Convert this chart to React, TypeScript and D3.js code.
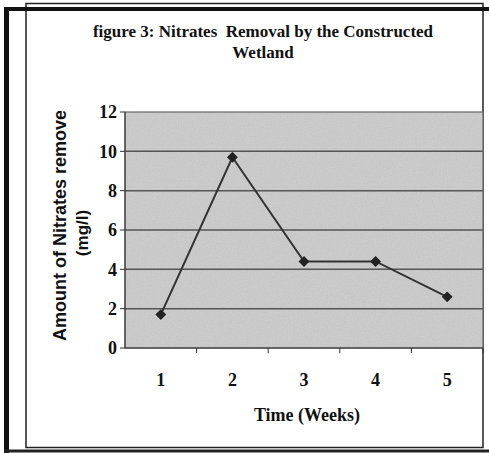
import React from 'react';
import * as d3 from 'd3';

const weeks = ['1', '2', '3', '4', '5'];
const nitratesRemoved = [1.7, 9.7, 4.4, 4.4, 2.6];
const yTicks = [0, 2, 4, 6, 8, 10, 12];

const titleLines = ['figure 3: Nitrates  Removal by the Constructed', 'Wetland'];
const xTitle = 'Time (Weeks)';
const yTitleLines = ['Amount of Nitrates removed', '(mg/l)'];

export default function App() {
  const width = 489, height = 453;
  const left = 125, right = 483, top = 112, bottom = 348;

  const x = d3.scaleBand().domain(weeks).range([left, right]);
  const y = d3.scaleLinear().domain([0, 12]).range([bottom, top]);

  const pts = weeks.map((w, i) => [x(w)! + x.bandwidth() / 2, y(nitratesRemoved[i])] as [number, number]);
  const line = d3.line()(pts) as string;
  const diamond = d3.symbol().type(d3.symbolDiamond2).size(75)() as string;

  const serif = '"Liberation Serif", "Times New Roman", serif';
  const sans = '"Liberation Sans", Arial, sans-serif';

  return (
    <svg width={width} height={height} style={{ position: 'absolute', left: 0, top: 0, background: '#fff' }}>
      <defs>
        <filter id="grain" x="0" y="0" width="100%" height="100%">
          <feTurbulence type="fractalNoise" baseFrequency="0.8" numOctaves={2} seed={3} />
          <feColorMatrix type="saturate" values="0" />
        </filter>
        <clipPath id="ytitleclip">
          <rect x={0} y={111} width={120} height={300} />
        </clipPath>
      </defs>

      {/* frame */}
      <rect x={26} y={3.5} width={457} height={444} fill="none" stroke="#222" strokeWidth={1.5} />
      <line x1={4} y1={9} x2={489} y2={9} stroke="#111" strokeWidth={4} />
      <line x1={6.5} y1={7} x2={6.5} y2={453} stroke="#111" strokeWidth={5} />
      <line x1={4} y1={451} x2={489} y2={451} stroke="#222" strokeWidth={3} />

      {/* title */}
      {titleLines.map((t, i) => (
        <text key={t} x={263} y={37 + i * 21} textAnchor="middle" fontFamily={serif} fontWeight="bold"
          fontSize={17} fill="#111" style={{ whiteSpace: 'pre' }}>{t}</text>
      ))}

      {/* plot area */}
      <rect x={left} y={top} width={right - left} height={bottom - top} fill="#cbcbcb" />
      <rect x={left} y={top} width={right - left} height={bottom - top} filter="url(#grain)" opacity={0.2} />

      {yTicks.filter(t => t > 0 && t < 12).map(t => (
        <line key={t} x1={left} x2={right} y1={y(t)} y2={y(t)} stroke="#555" strokeWidth={1.5} />
      ))}
      <rect x={left} y={top} width={right - left} height={bottom - top} fill="none" stroke="#666" strokeWidth={1.2} />

      {/* y axis */}
      <line x1={left} x2={left} y1={top} y2={bottom} stroke="#333" strokeWidth={1} />
      {yTicks.map(t => (
        <g key={t}>
          <line x1={left - 5} x2={left} y1={y(t)} y2={y(t)} stroke="#333" />
          <text x={117} y={y(t)} dy="0.35em" textAnchor="end" fontFamily={serif} fontWeight="bold"
            fontSize={18} fill="#111">{t}</text>
        </g>
      ))}

      {/* x axis */}
      <line x1={left} x2={right} y1={bottom} y2={bottom} stroke="#333" />
      {weeks.map(w => (
        <g key={w}>
          <line x1={x(w)! + x.bandwidth()} x2={x(w)! + x.bandwidth()} y1={bottom} y2={bottom + 5} stroke="#333" />
          <text x={x(w)! + x.bandwidth() / 2} y={386} textAnchor="middle" fontFamily={serif} fontWeight="bold"
            fontSize={18} fill="#111">{w}</text>
        </g>
      ))}
      <text x={307} y={421} textAnchor="middle" fontFamily={serif} fontWeight="bold" fontSize={18}
        fill="#111">{xTitle}</text>

      {/* y title */}
      <g clipPath="url(#ytitleclip)">
        <text transform="translate(66,341) rotate(-90)" textAnchor="start" fontFamily={sans} fontWeight="bold"
          fontSize={18} fill="#111">{yTitleLines[0]}</text>
        <text transform="translate(88,233) rotate(-90)" textAnchor="middle" fontFamily={sans} fontWeight="bold"
          fontSize={17} fill="#111">{yTitleLines[1]}</text>
      </g>

      {/* series */}
      <path d={line} fill="none" stroke="#333" strokeWidth={2} />
      {pts.map((p, i) => (
        <path key={i} d={diamond} transform={`translate(${p[0]},${p[1]})`} fill="#222" />
      ))}
    </svg>
  );
}
